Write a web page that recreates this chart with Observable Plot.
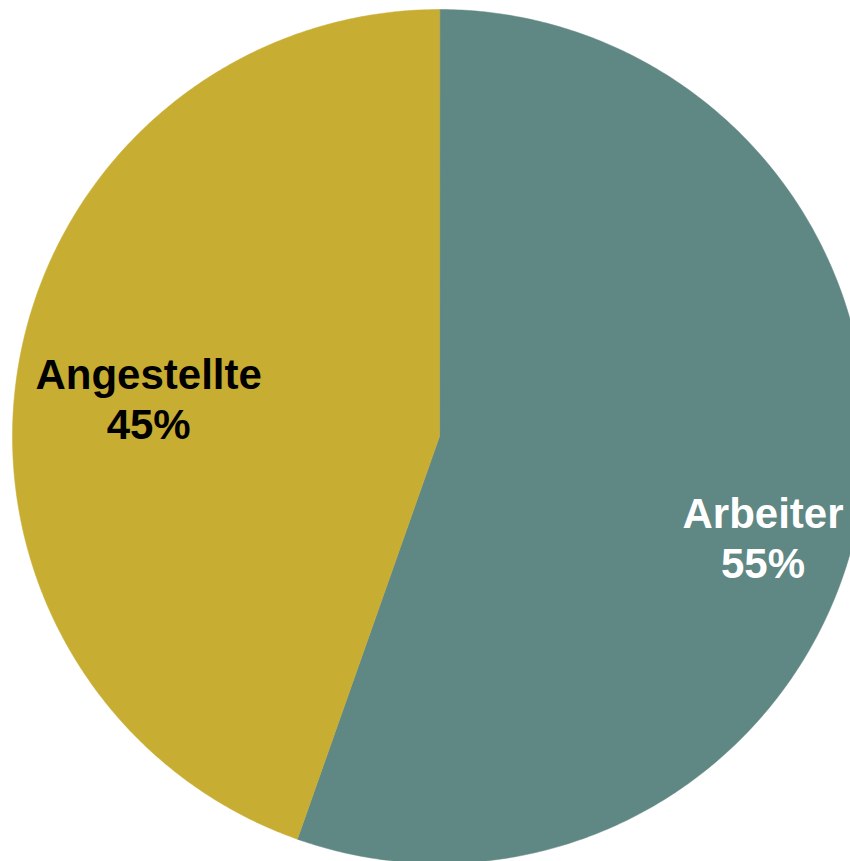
<!DOCTYPE html>
<html>
<head>
<meta charset="utf-8">
<script src="https://cdn.jsdelivr.net/npm/d3@7"></script>
<script src="https://cdn.jsdelivr.net/npm/@observablehq/plot@0.6"></script>
<style>
  html, body { margin: 0; padding: 0; overflow: hidden; background: #fff; }
  #chart svg { overflow: hidden; }
</style>
</head>
<body>
<div id="chart"></div>
<script>
// Data
const categories = ["Arbeiter", "Angestellte"];
const shares = [55.4, 44.6];
const sliceColors = ["#5f8783", "#c8ad33"];
const labelColors = ["#ffffff", "#000000"];

const fontSize = 42;
const fontFamily = "Liberation Sans, Arial, sans-serif";
const xRange = [12, 866];
const yRange = [863, 9];
const pxPerUnit = (xRange[1] - xRange[0]) / 2;

// Pie geometry (unit circle, starting at 12 o'clock, clockwise)
const total = d3.sum(shares);
const slices = [];
let acc = 0;
categories.forEach((name, i) => {
  const a0 = acc / total * 2 * Math.PI;
  acc += shares[i];
  const a1 = acc / total * 2 * Math.PI;
  slices.push({name, value: shares[i], a0, a1, i});
});

const outline = [];
for (const s of slices) {
  outline.push({name: s.name, x: 0, y: 0});
  const n = Math.max(2, Math.ceil((s.a1 - s.a0) / (Math.PI / 360)));
  for (let k = 0; k <= n; k++) {
    const a = s.a0 + (s.a1 - s.a0) * k / n;
    outline.push({name: s.name, x: Math.sin(a), y: Math.cos(a)});
  }
}

// Labels: outer edge of the text block placed near the rim, along the mid-angle
const ctx = document.createElement("canvas").getContext("2d");
ctx.font = `bold ${fontSize}px ${fontFamily}`;
const edgeRadius = 0.96;
const labels = slices.map(s => {
  const m = (s.a0 + s.a1) / 2;
  const lines = [s.name, `${Math.round(s.value)}%`];
  const w = d3.max(lines, t => ctx.measureText(t).width) / pxPerUnit;
  const sx = Math.sin(m);
  return {
    name: s.name,
    x: edgeRadius * sx - Math.sign(sx) * w / 2,
    y: edgeRadius * Math.cos(m),
    text: lines.join("\n"),
    color: labelColors[s.i]
  };
});

const chart = Plot.plot({
  width: 850,
  height: 861,
  margin: 0,
  x: {domain: [-1, 1], range: xRange, axis: null},
  y: {domain: [-1, 1], range: yRange, axis: null},
  color: {domain: categories, range: sliceColors},
  style: {background: "#fff"},
  marks: [
    Plot.line(outline, {x: "x", y: "y", z: "name", fill: "name", stroke: "name", strokeWidth: 0.5, curve: "linear-closed"}),
    Plot.text(labels, {
      x: "x", y: "y", text: "text",
      fill: d => d.color,
      fontSize, fontWeight: "bold",
      fontFamily,
      lineHeight: 1.19,
      dy: 31,
      textAnchor: "middle"
    })
  ]
});
document.getElementById("chart").appendChild(chart);
</script>
</body>
</html>
